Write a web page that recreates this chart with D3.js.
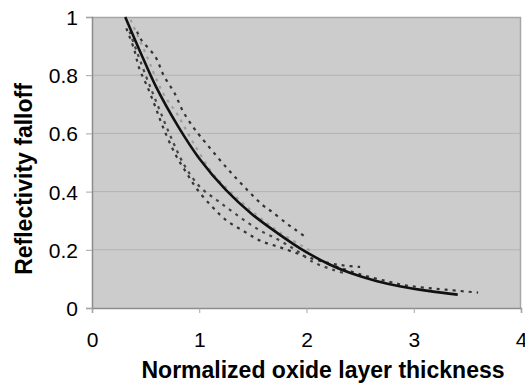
<!DOCTYPE html>
<html>
<head>
<meta charset="utf-8">
<script src="https://cdn.jsdelivr.net/npm/d3@7"></script>
<style>
  body { margin: 0; background: #fff; }
  text { font-family: "Liberation Sans", Arial, sans-serif; fill: #000; }
</style>
</head>
<body>
<svg id="chart" width="525" height="392"></svg>
<script>
// tick labels
const xTicks = [0, 1, 2, 3, 4];
const yTicks = [0, 0.2, 0.4, 0.6, 0.8, 1];

// fitted curve (solid)
const fitCurve = [[0.31, 1.0], [0.45, 0.88], [0.6, 0.758], [0.8, 0.626], [1.0, 0.514],
  [1.25, 0.405], [1.5, 0.32], [1.75, 0.252], [1.94, 0.205], [2.2, 0.152],
  [2.41, 0.12], [2.65, 0.093], [2.88, 0.074], [3.15, 0.058], [3.41, 0.046]];

// measured series (dotted)
const seriesUpper = [[0.42, 0.95], [0.46, 0.921], [0.59, 0.864], [0.67, 0.798], [0.77, 0.738],
  [0.85, 0.675], [0.95, 0.618], [1.01, 0.59], [1.26, 0.48], [1.45, 0.405], [1.59, 0.354],
  [1.68, 0.33], [1.82, 0.289], [1.9, 0.268], [1.98, 0.247]];
const seriesLight = [[0.36, 0.99], [0.52, 0.858], [0.59, 0.795], [0.68, 0.727], [0.79, 0.669],
  [0.93, 0.577], [1.13, 0.46], [1.29, 0.4], [1.5, 0.33], [1.75, 0.26], [2.07, 0.19]];
const seriesLower = [[0.32, 0.961], [0.39, 0.892], [0.44, 0.824], [0.52, 0.757], [0.59, 0.692],
  [0.66, 0.623], [0.78, 0.526], [0.88, 0.465], [0.98, 0.408], [1.11, 0.352], [1.25, 0.302],
  [1.41, 0.265], [1.57, 0.231], [1.75, 0.209], [1.91, 0.188], [2.0, 0.176], [2.2, 0.155],
  [2.35, 0.146], [2.5, 0.141]];
const seriesMiddle = [[0.35, 0.95], [0.5, 0.8], [0.62, 0.69], [0.75, 0.575], [0.87, 0.485],
  [1.01, 0.415], [1.17, 0.369], [1.35, 0.32], [1.55, 0.27], [1.74, 0.234], [1.9, 0.199],
  [2.06, 0.158], [2.15, 0.144], [2.25, 0.131], [2.34, 0.121]];
const seriesTail = [[2.2, 0.152], [2.5, 0.116], [2.75, 0.092], [2.92, 0.078], [3.1, 0.07],
  [3.3, 0.063], [3.6, 0.053]];

const svg = d3.select("#chart");
const margin = {left: 92, top: 17, right: 4, bottom: 84};
const width = 525 - margin.left - margin.right;
const height = 392 - margin.top - margin.bottom;

const x = d3.scaleLinear().domain([0, 4]).range([0, width]);
const y = d3.scaleLinear().domain([0, 1]).range([height, 0]);

const g = svg.append("g").attr("transform", `translate(${margin.left},${margin.top})`);

// plot background
g.append("rect")
  .attr("width", width).attr("height", height)
  .attr("fill", "#cccccc");

// horizontal gridlines
g.selectAll("line.grid")
  .data(yTicks.filter(d => d > 0 && d < 1))
  .enter().append("line")
  .attr("class", "grid")
  .attr("x1", 0).attr("x2", width)
  .attr("y1", d => y(d)).attr("y2", d => y(d))
  .attr("stroke", "#b3b3b3").attr("stroke-width", 1);

// top and right frame
g.append("path")
  .attr("d", `M0,0.5H${width - 0.5}V${height}`)
  .attr("fill", "none").attr("stroke", "#a6a6a6").attr("stroke-width", 1.5);

// axes
const yAxis = g.append("g")
  .call(d3.axisLeft(y).tickValues(yTicks).tickFormat(d3.format("")).tickSize(6).tickPadding(8));
const xAxis = g.append("g")
  .attr("transform", `translate(0,${height})`)
  .call(d3.axisBottom(x).tickValues(xTicks).tickFormat(d3.format("d")).tickSize(5).tickPadding(19));

[xAxis, yAxis].forEach(a => {
  a.select(".domain").attr("stroke", "#8c8c8c").attr("stroke-width", 1.5);
  a.selectAll(".tick line").attr("stroke", "#a6a6a6");
  a.selectAll("text").attr("font-size", 21).attr("font-family", "Liberation Sans, Arial, sans-serif").attr("fill", "#000");
});
yAxis.selectAll("text").attr("dy", "0.36em");

const line = d3.line()
  .x(d => x(d[0]))
  .y(d => y(d[1]))
  .curve(d3.curveCatmullRom.alpha(0.5));

const dotted = [
  {data: seriesLight, color: "#a0a0a0"},
  {data: seriesUpper, color: "#333333"},
  {data: seriesLower, color: "#333333"},
  {data: seriesMiddle, color: "#444444"},
  {data: seriesTail, color: "#333333"}
];

g.selectAll("path.series")
  .data(dotted)
  .enter().append("path")
  .attr("class", "series")
  .attr("d", d => line(d.data))
  .attr("fill", "none")
  .attr("stroke", d => d.color)
  .attr("stroke-width", 2.2)
  .attr("stroke-dasharray", "3,5");

// fitted curve
g.append("path")
  .attr("d", line(fitCurve))
  .attr("fill", "none")
  .attr("stroke", "#111")
  .attr("stroke-width", 2.6);

// axis titles
svg.append("text")
  .attr("x", 323).attr("y", 378)
  .attr("text-anchor", "middle")
  .attr("font-size", 23).attr("font-weight", "bold")
  .text("Normalized oxide layer thickness");

svg.append("text")
  .attr("transform", "translate(32,179) rotate(-90)")
  .attr("text-anchor", "middle")
  .attr("font-size", 23).attr("font-weight", "bold")
  .text("Reflectivity falloff");
</script>
</body>
</html>
